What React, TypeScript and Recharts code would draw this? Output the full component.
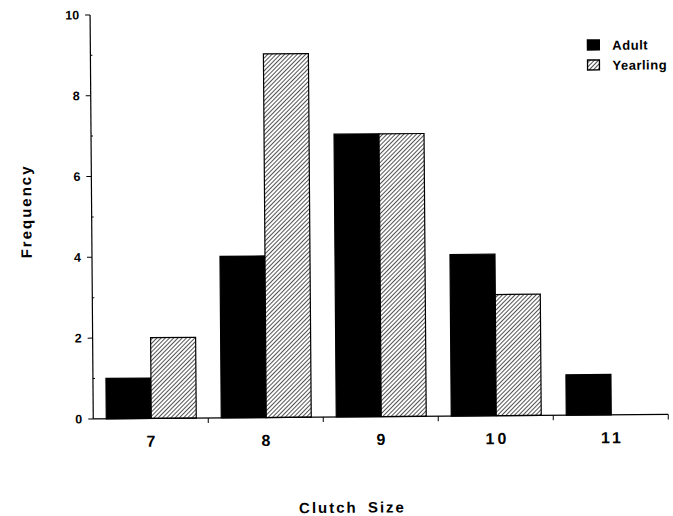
import React from 'react';
import { BarChart, Bar, XAxis, YAxis, Legend, Label } from 'recharts';

const categories = ['7', '8', '9', '10', '11'];
const adult = [1, 4, 7, 4, 1];
const yearling = [2, 9, 7, 3, 0];
const yTicks = [0, 1, 2, 3, 4, 5, 6, 7, 8, 9, 10];
const seriesNames = ['Adult', 'Yearling'];
const xTitle = 'Clutch Size';
const yTitle = 'Frequency';

const data = categories.map((c, i) => ({ size: c, adult: adult[i], yearling: yearling[i] }));

const FONT = '"Liberation Sans", Arial, Helvetica, sans-serif';
const W = 673;
const H = 516;
const MARGIN = { top: 13, right: 6, bottom: 0, left: 0 };
const Y_AXIS_W = 92;
const X_AXIS_H = 99;

const YTick = (props: any) => {
  const { x, y, payload } = props;
  const axisX = x + 5 + 7;
  const v = payload.value;
  if (v % 2 === 1) {
    return <line x1={axisX} x2={axisX + 2} y1={y} y2={y} stroke="#000" strokeWidth={1} />;
  }
  return (
    <g>
      <line x1={axisX - 5} x2={axisX} y1={y} y2={y} stroke="#000" strokeWidth={1} />
      <text x={x + 1} y={y} dy="0.35em" textAnchor="end" fontFamily={FONT} fontSize={12.5} fontWeight="bold" fill="#000">
        {v}
      </text>
    </g>
  );
};

const XTick = (props: any) => {
  const { x, y, payload } = props;
  const half = typeof payload.offset === 'number' && payload.offset > 0 ? payload.offset : (W - Y_AXIS_W - MARGIN.right) / categories.length / 2;
  const axisY = y - 5 - 12;
  return (
    <g>
      <line x1={x + half} x2={x + half} y1={axisY} y2={axisY + 5} stroke="#000" strokeWidth={1} />
      <text x={x + 1.5} y={y} dy="0.71em" textAnchor="middle" letterSpacing={3} fontFamily={FONT} fontSize={16} fontWeight="bold" fill="#000">
        {payload.value}
      </text>
    </g>
  );
};

const renderYLabel = () => (
  <text
    x={26.4}
    y={209}
    dy="0.35em"
    textAnchor="middle"
    transform="rotate(-90, 26.4, 209)"
    letterSpacing={2}
    fontFamily={FONT}
    fontSize={15}
    fontWeight="bold"
    fill="#000"
  >
    {yTitle}
  </text>
);

const renderXLabel = () => (
  <text
    x={350.5}
    y={507.6}
    dy="0.35em"
    textAnchor="middle"
    letterSpacing={2}
    wordSpacing={4}
    fontFamily={FONT}
    fontSize={15}
    fontWeight="bold"
    fill="#000"
  >
    {xTitle}
  </text>
);

const renderLegend = () => (
  <div style={{ fontFamily: FONT, fontSize: 13, fontWeight: 'bold', color: '#000', letterSpacing: 0.5 }}>
    {seriesNames.map((n, i) => (
      <div key={n} style={{ display: 'flex', alignItems: 'center', height: 20 }}>
        <svg width={14} height={12} style={{ marginRight: 12, display: 'block' }}>
          <defs>
            <pattern id="hatchLegend" width="3" height="3" patternUnits="userSpaceOnUse" patternTransform="rotate(45)">
              <rect width="3" height="3" fill="#fff" />
              <line x1="0" y1="0" x2="0" y2="3" stroke="#000" strokeWidth="1.4" />
            </pattern>
          </defs>
          <rect x={1} y={1} width={12} height={10} fill={i === 0 ? '#000' : 'url(#hatchLegend)'} stroke="#000" strokeWidth={1.4} />
        </svg>
        <span>{n}</span>
      </div>
    ))}
  </div>
);

export default function App() {
  return (
    <div
      style={{
        position: 'absolute',
        left: 0,
        top: 0,
        width: W,
        height: H,
        background: '#fff',
        transform: 'rotate(-0.45deg)',
        transformOrigin: '336.5px 258px',
      }}
    >
      <BarChart width={W} height={H} data={data} margin={MARGIN} barCategoryGap={13} barGap={0}>
        <defs>
          <pattern id="hatch" width="3" height="3" patternUnits="userSpaceOnUse" patternTransform="rotate(45)">
            <rect width="3" height="3" fill="#fff" />
            <line x1="0" y1="0" x2="0" y2="3" stroke="#000" strokeWidth="1.35" />
          </pattern>
        </defs>
        <XAxis
          dataKey="size"
          height={X_AXIS_H}
          tickSize={5}
          tickMargin={12}
          tickLine={false}
          axisLine={{ stroke: '#000', strokeWidth: 1.2 }}
          tick={<XTick />}
          interval={0}
        >
          <Label content={renderXLabel} />
        </XAxis>
        <YAxis
          width={Y_AXIS_W}
          domain={[0, 10]}
          ticks={yTicks}
          interval={0}
          tickSize={5}
          tickMargin={7}
          tickLine={false}
          axisLine={{ stroke: '#000', strokeWidth: 1.2 }}
          tick={<YTick />}
        >
          <Label content={renderYLabel} />
        </YAxis>
        <Legend
          layout="vertical"
          align="center"
          verticalAlign="middle"
          content={renderLegend}
          wrapperStyle={{ left: 588, top: 37, width: 85, height: 44 }}
        />
        <Bar dataKey="adult" name={seriesNames[0]} fill="#000" stroke="#000" strokeWidth={1.2} isAnimationActive={false} />
        <Bar dataKey="yearling" name={seriesNames[1]} fill="url(#hatch)" stroke="#000" strokeWidth={1.2} isAnimationActive={false} />
      </BarChart>
    </div>
  );
}
